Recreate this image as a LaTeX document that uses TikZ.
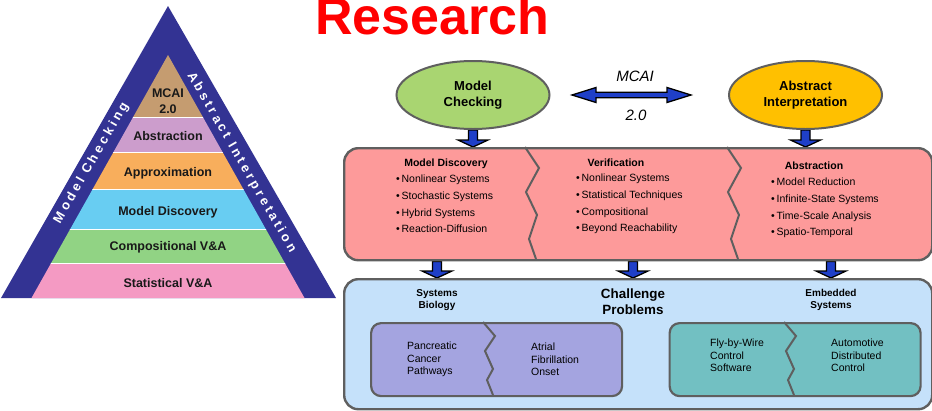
\documentclass[tikz,border=0pt]{standalone}
\usepackage{fontspec}
\setmainfont{Liberation Sans}
\usetikzlibrary{calc,shapes.geometric,backgrounds}

\definecolor{navy}{HTML}{333393}
\definecolor{tanband}{HTML}{C59C70}
\definecolor{lilacband}{HTML}{CC9DCC}
\definecolor{orangeband}{HTML}{F8AE5C}
\definecolor{skyband}{HTML}{68CDF2}
\definecolor{greenband}{HTML}{91D384}
\definecolor{pinkband}{HTML}{F49AC3}
\definecolor{mcgreen}{HTML}{A9D571}
\definecolor{aigold}{HTML}{FFC000}
\definecolor{salmon}{HTML}{FD9A9A}
\definecolor{paleblue}{HTML}{C5E1FA}
\definecolor{lavender}{HTML}{A4A4E0}
\definecolor{tealbox}{HTML}{72C0C2}
\definecolor{edgegray}{HTML}{5F5F5F}
\definecolor{arrowblue}{HTML}{1F3FC8}

% downward block arrow from one point to another (vertical)
\newcommand\downblock[2]{%
  \path[blockarrow] let \p1=(#1), \p2=(#2) in
    (\x1-4.5pt,\y1) -- (\x1-4.5pt,\y2+7pt) -- (\x1-15pt,\y2+7pt) -- (\x1,\y2)
    -- (\x1+15pt,\y2+7pt) -- (\x1+4.5pt,\y2+7pt) -- (\x1+4.5pt,\y1) -- cycle;}

% horizontal double-headed block arrow
\newcommand\twowayblock[2]{%
  \path[blockarrow] let \p1=(#1), \p2=(#2) in
    (\x1,\y1) -- (\x1+24pt,\y1+7.5pt) -- (\x1+24pt,\y1+2.8pt) -- (\x2-24pt,\y1+2.8pt)
    -- (\x2-24pt,\y1+7.5pt) -- (\x2,\y1) -- (\x2-24pt,\y1-7.5pt) -- (\x2-24pt,\y1-2.8pt)
    -- (\x1+24pt,\y1-2.8pt) -- (\x1+24pt,\y1-7.5pt) -- cycle;}

\begin{document}
\begin{tikzpicture}[x=1pt,y=-1pt,
  bandtext/.style={font=\fontsize{12.5}{16}\selectfont\bfseries, text=black!90, inner sep=0, align=center},
  sidetext/.style={font=\fontsize{13}{13}\selectfont\bfseries\addfontfeature{LetterSpace=24}, text=white, inner sep=0},
  oval/.style={ellipse, draw=edgegray, line width=2pt, minimum width=153pt, minimum height=68pt,
    inner sep=0, align=center, font=\fontsize{13}{15.5}\selectfont\bfseries},
  bigbox/.style={draw=edgegray, line width=2.4pt, rounded corners=14pt, inner sep=0, anchor=north west},
  smallbox/.style={draw=edgegray, line width=2.2pt, rounded corners=10pt, inner sep=0, anchor=north west,
    minimum width=251pt, minimum height=73pt},
  divider/.style={draw=edgegray, line width=2pt, line join=miter},
  blockarrow/.style={fill=arrowblue, draw=black, line width=1.3pt, line join=miter},
  colhead/.style={font=\fontsize{10.5}{12}\selectfont\bfseries, inner sep=0},
  bullets/.style={font=\fontsize{10.5}{16.7}\selectfont, inner sep=0, align=left, anchor=north west},
  italiclabel/.style={font=\fontsize{15}{15}\selectfont\itshape, inner sep=0},
  areahead/.style={font=\fontsize{10}{12}\selectfont\bfseries, inner sep=0, align=center},
  problem/.style={font=\fontsize{10.5}{12.7}\selectfont, inner sep=0, align=left, anchor=west},
]
\clip (0,0) rectangle (932,410);

% ---------- pyramid ----------
\fill[navy] (1,298) -- (168,6) -- (336,298) -- cycle;
\begin{scope}
  \clip (168,55) -- (31.5,298) -- (304.5,298) -- cycle;
  \fill[tanband]    (0,50)  rectangle (340,117);
  \fill[lilacband]  (0,117) rectangle (340,152);
  \fill[orangeband] (0,152) rectangle (340,189);
  \fill[skyband]    (0,189) rectangle (340,229);
  \fill[greenband]  (0,229) rectangle (340,263);
  \fill[pinkband]   (0,263) rectangle (340,299);
  \foreach \yy in {117,152,189,229,263} \draw[white, line width=1pt] (0,\yy) -- (340,\yy);
\end{scope}
\node[bandtext] (lvl1) at (168,101) {MCAI\\2.0};
\node[bandtext] (lvl2) at (168,136) {Abstraction};
\node[bandtext] (lvl3) at (168,173) {Approximation};
\node[bandtext] (lvl4) at (168,212) {Model Discovery};
\node[bandtext] (lvl5) at (168,247) {Compositional V\&A};
\node[bandtext] (lvl6) at (168,283) {Statistical V\&A};
\node[sidetext, rotate=60]  (leftside)  at (91.5,163) {Model Checking};
\node[sidetext, rotate=-60] (rightside) at (241.5,162.5) {Abstract Interpretation};

% ---------- title ----------
\node[anchor=base west, inner sep=0, text=red, font=\fontsize{52}{52}\selectfont\bfseries] (title) at (315,34) {Research};

% ---------- two approaches ----------
\node[oval, fill=mcgreen] (mc) at (473,95) {Model\\Checking};
\node[oval, fill=aigold]  (ai) at (805.5,95) {Abstract\\Interpretation};
\coordinate (dal) at (572,95);
\coordinate (dar) at (691,95);
\twowayblock{dal}{dar}
\node[italiclabel] (mcai) at (635,76) {MCAI};
\node[italiclabel] (ver)  at (636,115) {2.0};

% ---------- research areas ----------
\node[bigbox, fill=salmon, minimum width=588pt, minimum height=112pt] (pink) at (343,147) {};
\coordinate (dv1) at (525,147);
\coordinate (dv2) at (727,147);
\draw[divider] (dv1) -- ++(14,21) -- ++(-13,24) -- ++(11,23) -- ++(-8,24) -- ++(7,20);
\draw[divider] (dv2) -- ++(14,21) -- ++(-13,24) -- ++(11,23) -- ++(-8,24) -- ++(7,20);

\node[colhead] (h1) at (446,164) {Model Discovery};
\node[colhead] (h2) at (616,163) {Verification};
\node[colhead] (h3) at (814,166) {Abstraction};
\node[bullets] (l1) at (396,175) {\textbullet\,Nonlinear Systems\\\textbullet\,Stochastic Systems\\\textbullet\,Hybrid Systems\\\textbullet\,Reaction-Diffusion};
\node[bullets] (l2) at (576,174) {\textbullet\,Nonlinear Systems\\\textbullet\,Statistical Techniques\\\textbullet\,Compositional\\\textbullet\,Beyond Reachability};
\node[bullets] (l3) at (771,178) {\textbullet\,Model Reduction\\\textbullet\,Infinite-State Systems\\\textbullet\,Time-Scale Analysis\\\textbullet\,Spatio-Temporal};

% ---------- challenge problems ----------
\node[bigbox, fill=paleblue, minimum width=588pt, minimum height=130pt] (blue) at (343,278) {};
\node[areahead] (sb) at (437,300) {Systems\\Biology};
\node[areahead, font=\fontsize{13.4}{15.5}\selectfont\bfseries] (cp) at (633,301.5) {Challenge\\Problems};
\node[areahead] (es) at (831,300) {Embedded\\Systems};

\node[smallbox, fill=lavender] (bio) at (370,322) {};
\node[smallbox, fill=tealbox]  (emb) at (668.5,322) {};
\coordinate (dv3) at (483,322);
\coordinate (dv4) at (784,322);
\draw[divider] (dv3) -- ++(12,14) -- ++(-10,15) -- ++(8,18) -- ++(-6,11) -- ++(6,15);
\draw[divider] (dv4) -- ++(12,14) -- ++(-10,15) -- ++(8,18) -- ++(-6,11) -- ++(6,15);

\node[problem] (pc) at (407,359.5) {Pancreatic\\Cancer\\Pathways};
\node[problem] (af) at (531,359.5) {Atrial\\Fibrillation\\Onset};
\node[problem] (fw) at (710,355.5) {Fly-by-Wire\\Control\\Software};
\node[problem] (ad) at (831,355.5) {Automotive\\Distributed\\Control};

% ---------- connecting block arrows ----------
\begin{pgfonlayer}{background}
  \downblock{mc.south}{pink.north -| mc.south}
  \downblock{ai.south}{pink.north -| ai.south}
  \downblock{pink.south -| sb}{blue.north -| sb}
  \downblock{pink.south -| cp}{blue.north -| cp}
  \downblock{pink.south -| es}{blue.north -| es}
\end{pgfonlayer}
\end{tikzpicture}
\end{document}
